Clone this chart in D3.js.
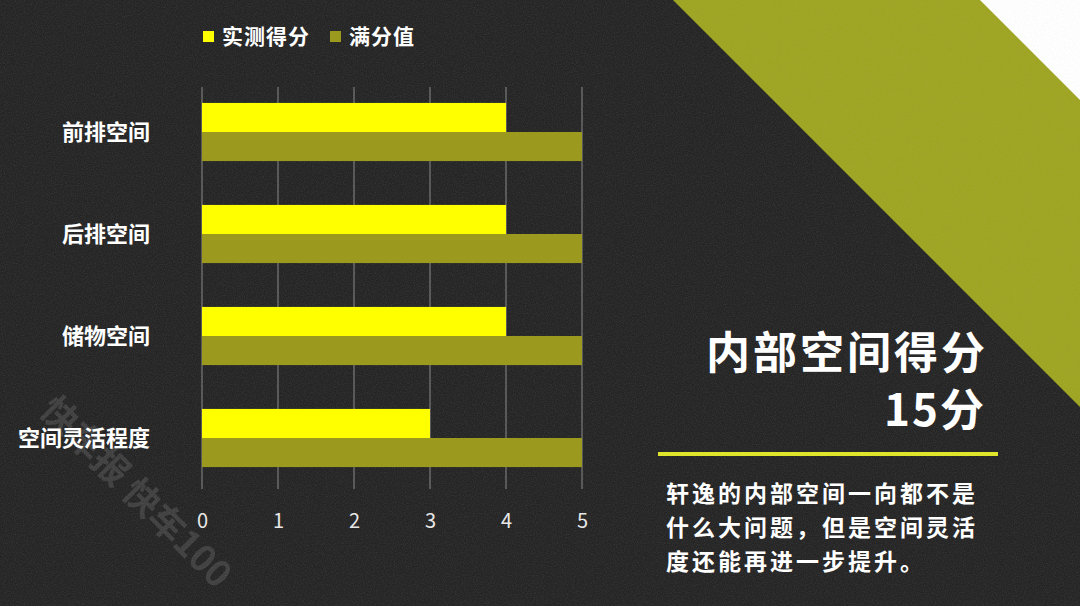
<!DOCTYPE html>
<html><head><meta charset="utf-8">
<script src="https://cdn.jsdelivr.net/npm/d3@7"></script>
<style>body{margin:0;background:#262626;overflow:hidden}svg{display:block}</style>
</head><body>
<script>
const categories = ["前排空间", "后排空间", "储物空间", "空间灵活程度"];
const seriesNames = ["实测得分", "满分值"];
const measured = [4, 4, 4, 3];
const fullScore = [5, 5, 5, 5];
const tickValues = [0, 1, 2, 3, 4, 5];
const title = "内部空间得分";
const totalText = "15分";
const bodyLines = ["轩逸的内部空间一向都不是", "什么大问题，但是空间灵活", "度还能再进一步提升。"];
const colors = ["#ffff00", "#9c9a1e"];

const W = 1080, H = 606;
const font = "'Noto Sans CJK SC', 'Noto Sans', sans-serif";
const svg = d3.select("body").append("svg").attr("width", W).attr("height", H);

// grain filter
const defs = svg.append("defs");
const f = defs.append("filter").attr("id", "grain").attr("x", 0).attr("y", 0).attr("width", "100%").attr("height", "100%");
f.append("feTurbulence").attr("type", "fractalNoise").attr("baseFrequency", 0.9).attr("numOctaves", 2).attr("seed", 3).attr("result", "n");
f.append("feColorMatrix").attr("in", "n").attr("type", "matrix")
  .attr("values", "0 0 0 0 0.5  0 0 0 0 0.5  0 0 0 0 0.5  0 0 0 1.2 -0.45").attr("result", "g");
f.append("feComposite").attr("in", "g").attr("in2", "SourceGraphic").attr("operator", "in");

// background
svg.append("rect").attr("width", W).attr("height", H).attr("fill", "#252525");
svg.append("polygon").attr("points", "673,0 1080,0 1080,407").attr("fill", "#9ea521");
svg.append("polygon").attr("points", "980,0 1080,0 1080,100").attr("fill", "#ffffff");
svg.append("rect").attr("width", W).attr("height", H).attr("fill", "#fff").attr("opacity", 0.18).attr("filter", "url(#grain)");

// scales
const x = d3.scaleLinear().domain([0, 5]).range([202, 582]);
const y = d3.scaleBand().domain(categories).range([81, 489]).paddingInner(0.43).paddingOuter(0.215);
const ySub = d3.scaleBand().domain(seriesNames).range([0, y.bandwidth()]);

// grid lines
svg.append("g").selectAll("line").data(tickValues).join("line")
  .attr("x1", d => x(d)).attr("x2", d => x(d)).attr("y1", 87).attr("y2", 489)
  .attr("stroke", "#8a8a8a").attr("stroke-width", 1);

// bars
const data = categories.map((c, i) => ({ c, vals: [measured[i], fullScore[i]] }));
const g = svg.append("g");
g.selectAll("g").data(data).join("g")
  .attr("transform", d => `translate(0,${y(d.c)})`)
  .selectAll("rect").data(d => d.vals.map((v, j) => ({ v, s: seriesNames[j], j })))
  .join("rect")
  .attr("x", x(0)).attr("y", d => ySub(d.s)).attr("height", ySub.bandwidth())
  .attr("width", d => x(d.v) - x(0)).attr("fill", d => colors[d.j]);

// x axis labels
const xAxis = d3.axisBottom(x).tickValues(tickValues).tickFormat(d3.format("d")).tickSize(0).tickPadding(0);
const ax = svg.append("g").attr("transform", "translate(0,514)").call(xAxis);
ax.select(".domain").remove();
ax.selectAll("text").attr("fill", "#e8e8e8").attr("font-family", font).attr("font-size", 20).attr("dy", "0.71em");

// y axis labels
const yAxis = d3.axisLeft(y).tickSize(0).tickPadding(0);
const ay = svg.append("g").attr("transform", "translate(150,0)").call(yAxis);
ay.select(".domain").remove();
ay.selectAll("text").attr("fill", "#ffffff").attr("font-family", font).attr("font-weight", "bold").attr("font-size", 22).attr("dy", "0.35em");

// legend
const leg = svg.append("g");
const legX = [203, 330];
seriesNames.forEach((s, i) => {
  leg.append("rect").attr("x", legX[i]).attr("y", 31).attr("width", 11).attr("height", 11).attr("fill", colors[i]);
  leg.append("text").attr("x", legX[i] + 19).attr("y", 44).text(s)
    .attr("fill", "#fff").attr("font-family", font).attr("font-weight", "bold").attr("font-size", 21).attr("letter-spacing", 1);
});

// right panel
svg.append("text").attr("x", 988).attr("y", 369).attr("text-anchor", "end").text(title)
  .attr("fill", "#fff").attr("font-family", font).attr("font-weight", "bold").attr("font-size", 44).attr("letter-spacing", 3);
svg.append("text").attr("x", 986).attr("y", 426).attr("text-anchor", "end").text(totalText)
  .attr("fill", "#fff").attr("font-family", font).attr("font-weight", "bold").attr("font-size", 44).attr("letter-spacing", 2);
svg.append("rect").attr("x", 658).attr("y", 452).attr("width", 340).attr("height", 4).attr("fill", "#dfe52a");
svg.append("g").selectAll("text").data(bodyLines).join("text")
  .attr("x", 666).attr("y", (d, i) => 502 + i * 34).text(d => d)
  .attr("fill", "#fff").attr("font-family", font).attr("font-weight", "bold").attr("font-size", 23).attr("letter-spacing", 3);

// watermark
svg.append("text").attr("transform", "translate(38,412) rotate(45)").text("快车报 快车100")
  .attr("fill", "#ffffff").attr("opacity", 0.12).attr("font-family", font).attr("font-weight", "bold").attr("font-size", 36);
</script>
</body></html>
